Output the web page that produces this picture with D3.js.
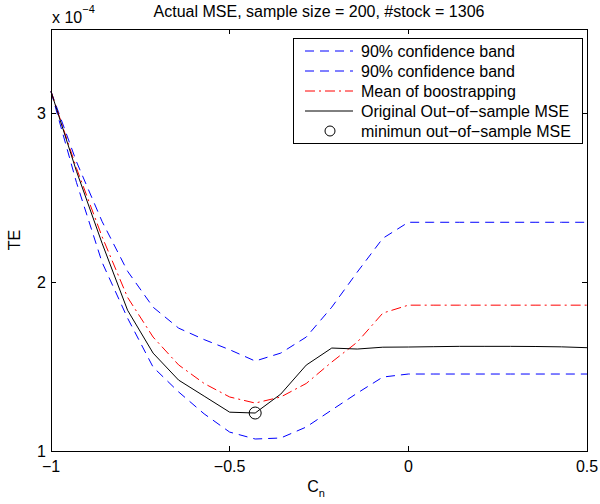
<!DOCTYPE html>
<html>
<head>
<meta charset="utf-8">
<script src="https://cdn.jsdelivr.net/npm/d3@7"></script>
<style>
	body { margin: 0; background: #fff; }
	text { font-family: 'Liberation Sans', Arial, sans-serif; fill: #000; }
</style>
</head>
<body>
<script>
// C_n grid and curves (values in units of 1e-4)
const C_N = [-1, -0.9286, -0.8571, -0.7857, -0.7143, -0.6429, -0.5714, -0.5, -0.4286, -0.3571, -0.2857,
	-0.2143, -0.1429, -0.0714, 0, 0.0714, 0.1429, 0.2143, 0.2857, 0.3571, 0.4286, 0.5];
const UPPER = [3.13, 2.713, 2.36, 2.065, 1.852, 1.728, 1.66, 1.6, 1.533, 1.58, 1.675,
	1.852, 2.06, 2.26, 2.355, 2.355, 2.355, 2.355, 2.355, 2.355, 2.355, 2.355];
const LOWER = [3.13, 2.59, 2.118, 1.787, 1.497, 1.35, 1.22, 1.112, 1.071, 1.077, 1.142,
	1.243, 1.343, 1.438, 1.456, 1.456, 1.456, 1.456, 1.456, 1.456, 1.456, 1.456];
const MEAN = [3.13, 2.675, 2.27, 1.91, 1.675, 1.51, 1.4, 1.32, 1.284, 1.32, 1.4,
	1.527, 1.645, 1.817, 1.864, 1.864, 1.864, 1.864, 1.864, 1.864, 1.864, 1.864];
const ORIGINAL = [3.13, 2.657, 2.231, 1.834, 1.58, 1.42, 1.325, 1.23, 1.225, 1.337, 1.509,
	1.61, 1.604, 1.615, 1.616, 1.618, 1.62, 1.62, 1.62, 1.619, 1.617, 1.612];
const X_TICKS = [-1, -0.5, 0, 0.5];
const Y_TICKS = [1, 2, 3];
const LEGEND = ['90% confidence band', '90% confidence band', 'Mean of boostrapping',
	'Original Out\u2212of\u2212sample MSE', 'minimun out\u2212of\u2212sample MSE'];

const plotLeft = 51, plotTop = 29, plotRight = 587, plotBottom = 451;

let svg = d3.select('body').append('svg')
	.attr('width', 600)
	.attr('height', 504);

let x = d3.scaleLinear().domain([-1, 0.5]).range([plotLeft, plotRight]);
let y = d3.scaleLinear().domain([1, 3.5]).range([plotBottom, plotTop]);

let fmt = v => String(v).replace('-', '\u2212');

let series = [
	{ values: UPPER, color: '#0000ff', dash: '9,6' },
	{ values: LOWER, color: '#0000ff', dash: '9,6' },
	{ values: MEAN, color: '#ff0000', dash: '10,4,2,4' },
	{ values: ORIGINAL, color: '#000', dash: null }
];

let line = d3.line()
	.x((v, i) => x(C_N[i]))
	.y(v => y(v));

svg.selectAll('path.curve')
	.data(series)
	.enter()
	.append('path')
	.attr('class', 'curve')
	.attr('d', s => line(s.values))
	.attr('fill', 'none')
	.attr('stroke', s => s.color)
	.attr('stroke-width', 1)
	.attr('stroke-dasharray', s => s.dash);

// minimum marker
let minIndex = d3.minIndex(ORIGINAL);
svg.append('circle')
	.attr('cx', x(C_N[minIndex]))
	.attr('cy', y(ORIGINAL[minIndex]))
	.attr('r', 6)
	.attr('fill', 'none')
	.attr('stroke', '#000');

// frame and ticks
let axes = svg.append('g').attr('shape-rendering', 'crispEdges');
axes.append('rect')
	.attr('x', plotLeft + 0.5)
	.attr('y', plotTop + 0.5)
	.attr('width', plotRight - plotLeft)
	.attr('height', plotBottom - plotTop)
	.attr('fill', 'none')
	.attr('stroke', '#000');

X_TICKS.forEach(t => {
	axes.append('line').attr('x1', x(t)).attr('x2', x(t)).attr('y1', plotBottom).attr('y2', plotBottom - 5).attr('stroke', '#000');
	axes.append('line').attr('x1', x(t)).attr('x2', x(t)).attr('y1', plotTop).attr('y2', plotTop + 5).attr('stroke', '#000');
});
Y_TICKS.forEach(t => {
	axes.append('line').attr('x1', plotLeft).attr('x2', plotLeft + 5).attr('y1', y(t)).attr('y2', y(t)).attr('stroke', '#000');
	axes.append('line').attr('x1', plotRight).attr('x2', plotRight - 5).attr('y1', y(t)).attr('y2', y(t)).attr('stroke', '#000');
});

svg.selectAll('text.xtick')
	.data(X_TICKS)
	.enter()
	.append('text')
	.attr('class', 'xtick')
	.attr('x', t => x(t))
	.attr('y', 472)
	.attr('text-anchor', 'middle')
	.attr('font-size', 16)
	.text(fmt);

svg.selectAll('text.ytick')
	.data(Y_TICKS)
	.enter()
	.append('text')
	.attr('class', 'ytick')
	.attr('x', 46)
	.attr('y', t => y(t) + 6)
	.attr('text-anchor', 'end')
	.attr('font-size', 16)
	.text(fmt);

// exponent
let expo = svg.append('text').attr('x', 52).attr('y', 23).attr('font-size', 16);
expo.append('tspan').text('x 10');
expo.append('tspan').attr('font-size', 11).attr('dy', -10).text('\u22124');

svg.append('text')
	.attr('x', (plotLeft + plotRight) / 2)
	.attr('y', 17)
	.attr('text-anchor', 'middle')
	.attr('font-size', 16)
	.text('Actual MSE, sample size = 200, #stock = 1306');

let xLabel = svg.append('text')
	.attr('x', (plotLeft + plotRight) / 2 - 3)
	.attr('y', 492)
	.attr('text-anchor', 'middle')
	.attr('font-size', 16);
xLabel.append('tspan').text('C');
xLabel.append('tspan').attr('font-size', 11).attr('dy', 5).text('n');

svg.append('text')
	.attr('transform', `translate(20, ${(plotTop + plotBottom) / 2}) rotate(-90)`)
	.attr('text-anchor', 'middle')
	.attr('font-size', 16)
	.text('TE');

// legend
let legend = svg.append('g');
legend.append('rect')
	.attr('x', 293.5)
	.attr('y', 38.5)
	.attr('width', 289)
	.attr('height', 105)
	.attr('fill', '#fff')
	.attr('stroke', '#000')
	.attr('shape-rendering', 'crispEdges');

let legendRows = legend.selectAll('g.row')
	.data(LEGEND)
	.enter()
	.append('g')
	.attr('class', 'row')
	.attr('transform', (d, i) => `translate(0, ${51 + i * 20})`);

legendRows.filter((d, i) => i < 4)
	.append('line')
	.attr('x1', 305)
	.attr('x2', 353)
	.attr('stroke', (d, i) => series[i].color)
	.attr('stroke-dasharray', (d, i) => series[i].dash);

legendRows.filter((d, i) => i === 4)
	.append('circle')
	.attr('cx', 330)
	.attr('r', 5)
	.attr('fill', 'none')
	.attr('stroke', '#000');

legendRows.append('text')
	.attr('x', 361)
	.attr('y', 6)
	.attr('font-size', 16)
	.text(d => d);
</script>
</body>
</html>
